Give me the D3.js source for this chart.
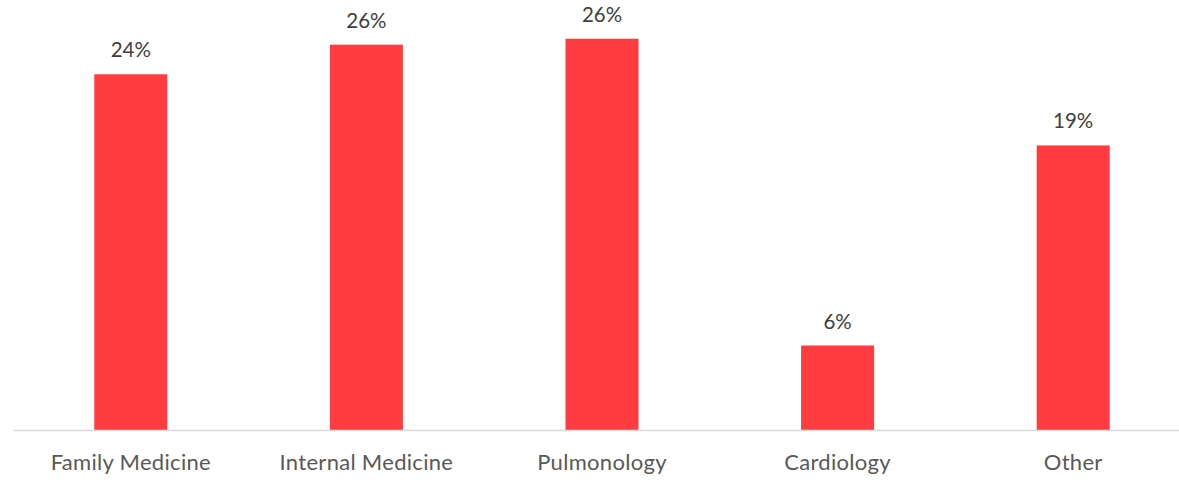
<!DOCTYPE html>
<html>
<head>
<meta charset="utf-8">
<script src="https://cdn.jsdelivr.net/npm/d3@7"></script>
<style>
  html, body { margin: 0; padding: 0; background: #ffffff; }
  svg { display: block; }
</style>
</head>
<body>
<svg id="chart" width="1179" height="480"></svg>
<script>
// Share of respondents by specialty
const categories = ["Family Medicine", "Internal Medicine", "Pulmonology", "Cardiology", "Other"];
const shares = [0.240, 0.260, 0.264, 0.057, 0.192];

const width = 1179, height = 480;
const baseline = 430;
const svg = d3.select("#chart");

const x = d3.scaleBand()
  .domain(categories)
  .range([13, 1191])
  .paddingInner(0.69)
  .paddingOuter(0.345);

const y = d3.scaleLinear()
  .domain([0, 0.28])
  .range([baseline, 15]);

const fmt = d3.format(".0%");
const data = categories.map((c, i) => ({ cat: c, v: shares[i] }));

// bars
svg.append("g")
  .selectAll("rect")
  .data(data)
  .join("rect")
  .attr("x", d => x(d.cat))
  .attr("y", d => y(d.v))
  .attr("width", x.bandwidth())
  .attr("height", d => y(0) - y(d.v))
  .attr("fill", "#ff3d40");

// value labels
svg.append("g")
  .selectAll("text")
  .data(data)
  .join("text")
  .attr("x", d => x(d.cat) + x.bandwidth() / 2)
  .attr("y", d => y(d.v) - 17)
  .attr("text-anchor", "middle")
  .attr("font-family", "Lato, 'Open Sans', sans-serif")
  .attr("font-size", 20.5)
  .attr("fill", "#404040")
  .text(d => fmt(d.v));

// category axis
const xAxis = d3.axisBottom(x).tickSize(0).tickPadding(24);
const gx = svg.append("g")
  .attr("transform", `translate(0,${baseline})`)
  .call(xAxis);
gx.select(".domain").attr("stroke", "#d9d9d9").attr("stroke-width", 1.5);
gx.selectAll("text")
  .attr("font-family", "Lato, 'Open Sans', sans-serif")
  .attr("font-size", 22)
  .attr("letter-spacing", 0.3)
  .attr("fill", "#595959");
</script>
</body>
</html>
